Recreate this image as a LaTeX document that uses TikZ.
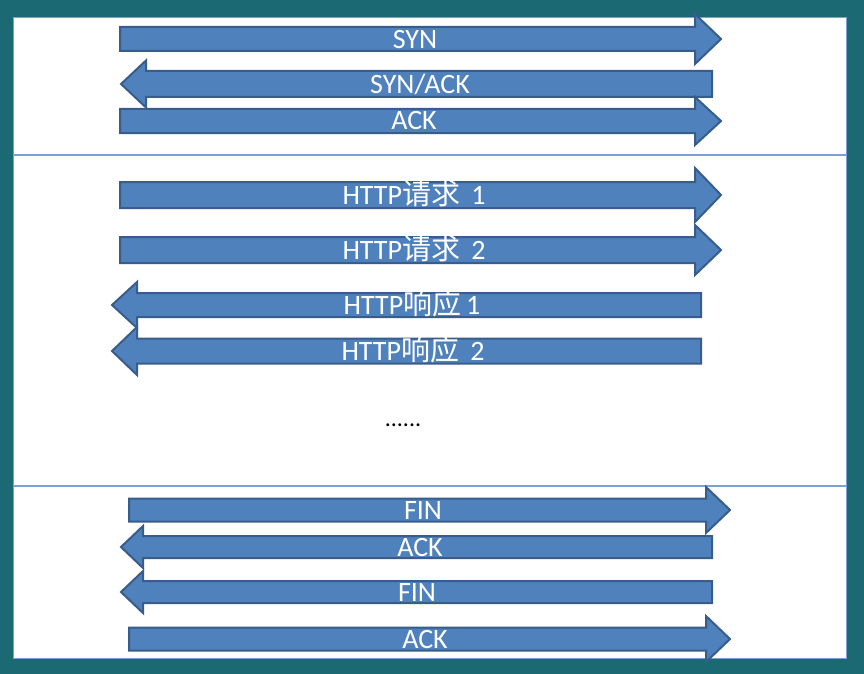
\documentclass[tikz,border=0pt]{standalone}
\usepackage{fontspec}
\setmainfont{Carlito}
\newfontfamily\cjk{Noto Sans CJK SC}
\definecolor{frameteal}{RGB}{27,106,115}
\definecolor{arrowfill}{RGB}{79,129,189}
\definecolor{arrowline}{RGB}{56,93,138}
\definecolor{sepline}{RGB}{124,160,210}
\tikzset{
  arrowshape/.style={fill=arrowfill, draw=arrowline, line width=2pt, line join=miter},
  arrowlabel/.style={text=white, font=\fontsize{28}{30}\selectfont, anchor=base, inner sep=0pt},
  sepstyle/.style={draw=sepline, line width=1.2pt}
}
% right arrow: #1 left, #2 head base, #3 tip, #4 centre y, #5 half shaft, #6 half head
\newcommand{\myrarrow}[6]{%
  \path[arrowshape] (#1,#4-#5) -- (#2,#4-#5) -- (#2,#4-#6) -- (#3,#4) -- (#2,#4+#6) -- (#2,#4+#5) -- (#1,#4+#5) -- cycle;}
% left arrow: #1 tip, #2 head base, #3 right end, #4 centre y, #5 half shaft, #6 half head
\newcommand{\mylarrow}[6]{%
  \path[arrowshape] (#3,#4-#5) -- (#2,#4-#5) -- (#2,#4-#6) -- (#1,#4) -- (#2,#4+#6) -- (#2,#4+#5) -- (#3,#4+#5) -- cycle;}
\newcommand{\zh}[1]{{\cjk\fontsize{29}{30}\selectfont #1\,}}
\begin{document}
\begin{tikzpicture}[x=1pt,y=-1pt]
\useasboundingbox (0,0) rectangle (864,674);
\fill[frameteal] (0,0) rectangle (864,674);
\fill[white] (13,17) rectangle (846,658);
\draw[sepline, line width=0.8pt] (13,17) rectangle (846,658);
\draw[sepstyle] (13,155) -- (846,155);
\draw[sepstyle] (13,486) -- (846,486);

\myrarrow{120}{695}{721}{39}{12}{25}
\mylarrow{121}{146}{712}{84}{13}{23.5}
\myrarrow{120}{695}{721}{121}{12}{24}
\myrarrow{120}{695}{721}{195}{13}{27}
\myrarrow{120}{695}{721}{250}{13}{25}
\mylarrow{112}{137}{701}{305}{12}{23}
\mylarrow{112}{137}{701}{351}{12.5}{24}
\myrarrow{129}{706}{730}{510}{11.5}{23}
\mylarrow{121}{143}{712}{547}{11}{21}
\mylarrow{121}{143}{712}{592}{11}{21}
\myrarrow{129}{706}{730}{639}{11.5}{23}

\node[arrowlabel] (syn) at (415,49) {SYN};
\node[arrowlabel] (synack) at (420,94) {SYN/ACK};
\node[arrowlabel] (ack1) at (414,130) {ACK};
\node[arrowlabel] (req1) at (414,204) {HTTP\zh{请求} 1};
\node[arrowlabel] (req2) at (414,259) {HTTP\zh{请求} 2};
\node[arrowlabel] (resp1) at (412,314) {HTTP\zh{响应}1};
\node[arrowlabel] (resp2) at (413,360) {HTTP\zh{响应} 2};
\node[font=\fontsize{24}{26}\selectfont, anchor=base, inner sep=0pt] (dots) at (403,426) {......};
\node[arrowlabel] (fin1) at (423,519) {FIN};
\node[arrowlabel] (ack2) at (420,556) {ACK};
\node[arrowlabel] (fin2) at (417,601) {FIN};
\node[arrowlabel] (ack3) at (425,648) {ACK};
\end{tikzpicture}
\end{document}
